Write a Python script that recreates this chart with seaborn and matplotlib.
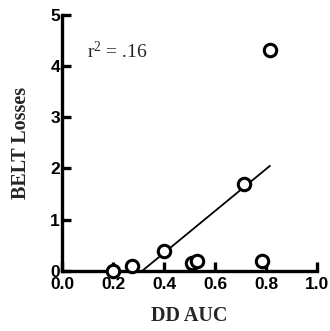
import matplotlib
matplotlib.use("Agg")
import matplotlib.pyplot as plt
import seaborn as sns
import pandas as pd

# Delay-discounting AUC vs. BELT losses
dd_auc = [0.20, 0.275, 0.40, 0.51, 0.53, 0.715, 0.785, 0.815]
belt_losses = [0.0, 0.10, 0.40, 0.15, 0.20, 1.70, 0.20, 4.30]
x_ticks = [0.0, 0.2, 0.4, 0.6, 0.8, 1.0]
x_tick_labels = ["0.0", "0.2", "0.4", "0.6", "0.8", "1.0"]
y_ticks = [0, 1, 2, 3, 4, 5]
r2_label = r"r$^2$ = .16"

df = pd.DataFrame({"DD AUC": dd_auc, "BELT Losses": belt_losses})

sns.set_style("ticks")
plt.rcParams["font.family"] = ["Liberation Sans", "DejaVu Sans"]
plt.rcParams["mathtext.fontset"] = "custom"
plt.rcParams["mathtext.rm"] = "Liberation Serif"
plt.rcParams["mathtext.it"] = "Liberation Serif"

fig = plt.figure(figsize=(3.30, 3.31), dpi=100)
ax = fig.add_axes([0.188, 0.181, 0.773, 0.775])

sns.regplot(
    data=df, x="DD AUC", y="BELT Losses", ax=ax, ci=None, truncate=True,
    scatter_kws=dict(s=80, facecolors="white", edgecolors="black", alpha=1,
                     linewidths=2.2, clip_on=False, zorder=3),
    line_kws=dict(color="black", lw=1.3, zorder=2),
)

ax.set_xlim(0, 1.0)
ax.set_ylim(0, 5)
ax.set_xticks(x_ticks)
ax.set_xticklabels(x_tick_labels)
ax.set_yticks(y_ticks)

for side in ("top", "right"):
    ax.spines[side].set_visible(False)
for side in ("left", "bottom"):
    ax.spines[side].set_linewidth(2.4)
    ax.spines[side].set_color("black")

ax.tick_params(axis="both", direction="in", length=6.5, width=2.4,
               colors="black", labelsize=12.5)
ax.tick_params(axis="x", pad=4)
ax.tick_params(axis="y", pad=1.5)
for lab in ax.get_xticklabels() + ax.get_yticklabels():
    lab.set_fontweight("bold")

ax.set_xlabel("DD AUC", fontfamily="Liberation Serif", fontweight="bold",
              fontsize=14.5, labelpad=10)
ax.set_ylabel("BELT Losses", fontfamily="Liberation Serif", fontweight="bold",
              fontsize=14.5, labelpad=14)

ax.text(0.097, 4.16, r2_label, fontfamily="Liberation Serif", fontsize=14,
        ha="left", va="baseline")

fig.savefig("out.png", dpi=100, facecolor="white")
